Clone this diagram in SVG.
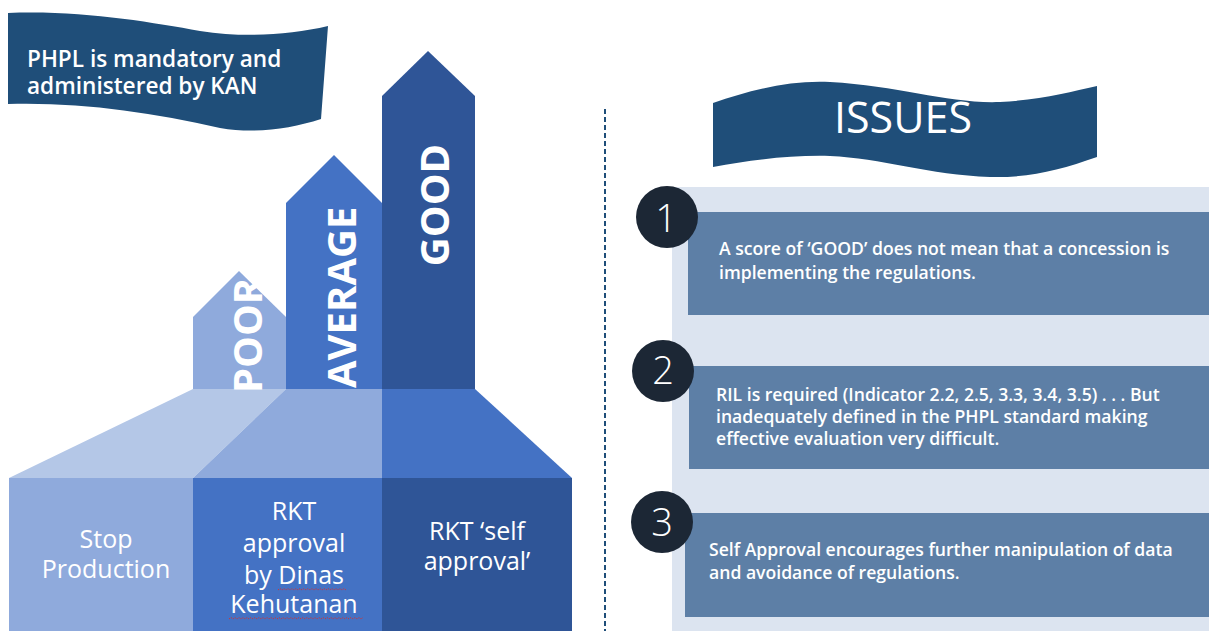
<svg xmlns="http://www.w3.org/2000/svg" width="1209" height="631" viewBox="0 0 1209 631">
  <style>
    .banner { fill: #1f4e79; }
    .wtxt { fill: #ffffff; font-family: "Open Sans", "Noto Sans", "Liberation Sans", sans-serif; }
    .label { font-size: 40px; font-weight: 700; }
    .base { font-size: 25px; font-weight: 400; text-anchor: middle; }
    .issue-txt { font-size: 17.6px; font-weight: 600; }
    .num { font-size: 38px; font-weight: 300; text-anchor: middle; }
    .badge { fill: #1c2735; }
    .issue-box { fill: #5d7fa6; }
    .squiggle { fill: none; stroke: #d9302c; stroke-width: 1; stroke-dasharray: 1.2 1.2; }
  </style>

  <rect width="1209" height="631" fill="#ffffff"/>

  <!-- Title flag, left -->
  <g id="flag-phpl">
    <path class="banner" d="M8,13 C80,10 150,22 200,31 C245,38 290,35 328,26 L321,119 C290,129 255,134 220,128 C150,112 80,102 8,104 Z"/>
    <text class="wtxt" x="27" y="67" font-size="22.6" font-weight="600">PHPL is mandatory and</text>
    <text class="wtxt" x="27" y="94" font-size="22.6" font-weight="600">administered by KAN</text>
  </g>

  <!-- Rating arrows -->
  <g id="arrow-poor">
    <polygon points="193,389 193,317 239,271 286,317 286,389" fill="#8faadc"/>
  </g>
  <g id="arrow-average">
    <polygon points="286,389 286,203 334,155 382,203 382,389" fill="#4472c4"/>
  </g>
  <g id="arrow-good">
    <polygon points="382,389 382,96 428,51 475,96 475,389" fill="#2f5597"/>
  </g>

  <!-- Roof linking arrows to outcomes -->
  <g id="roof">
    <polygon points="193,389 286,389 193,478 9,478" fill="#b4c7e7"/>
    <polygon points="286,389 382,389 382,478 193,478" fill="#8faadc"/>
    <polygon points="382,389 475,389 572,478 382,478" fill="#4472c4"/>
  </g>

  <!-- Vertical arrow labels -->
  <text class="wtxt label" transform="translate(262,393) rotate(-90)" font-size="38">POOR</text>
  <text class="wtxt label" transform="translate(356,388) rotate(-90)">AVERAGE</text>
  <text class="wtxt label" transform="translate(449,205) rotate(-90)" text-anchor="middle">GOOD</text>

  <!-- Outcome boxes -->
  <g id="box-stop">
    <rect x="9" y="478" width="184" height="153" fill="#8faadc"/>
    <text class="wtxt base" x="106" y="548">Stop</text>
    <text class="wtxt base" x="106" y="578">Production</text>
  </g>
  <g id="box-dinas">
    <rect x="193" y="478" width="189" height="153" fill="#4472c4"/>
    <text class="wtxt base" x="294" y="520">RKT</text>
    <text class="wtxt base" x="294" y="552">approval</text>
    <text class="wtxt base" x="294" y="584">by Dinas</text>
    <text class="wtxt base" x="294" y="613">Kehutanan</text>
    <path class="squiggle" d="M278,590 l2,-1.5 l2,1.5 l2,-1.5 l2,1.5 l2,-1.5 l2,1.5 l2,-1.5 l2,1.5 l2,-1.5 l2,1.5 l2,-1.5 l2,1.5 l2,-1.5 l2,1.5 l2,-1.5 l2,1.5 l2,-1.5 l2,1.5 l2,-1.5 l2,1.5 l2,-1.5 l2,1.5 l2,-1.5 l2,1.5 l2,-1.5 l2,1.5 l2,-1.5 l2,1.5 l2,-1.5 l2,1.5 l2,-1.5 l2,1.5 l2,-1.5 l2,1.5"/>
    <path class="squiggle" d="M229,619 l2,-1.5 l2,1.5 l2,-1.5 l2,1.5 l2,-1.5 l2,1.5 l2,-1.5 l2,1.5 l2,-1.5 l2,1.5 l2,-1.5 l2,1.5 l2,-1.5 l2,1.5 l2,-1.5 l2,1.5 l2,-1.5 l2,1.5 l2,-1.5 l2,1.5 l2,-1.5 l2,1.5 l2,-1.5 l2,1.5 l2,-1.5 l2,1.5 l2,-1.5 l2,1.5 l2,-1.5 l2,1.5 l2,-1.5 l2,1.5 l2,-1.5 l2,1.5 l2,-1.5 l2,1.5 l2,-1.5 l2,1.5 l2,-1.5 l2,1.5 l2,-1.5 l2,1.5 l2,-1.5 l2,1.5 l2,-1.5 l2,1.5 l2,-1.5 l2,1.5 l2,-1.5 l2,1.5 l2,-1.5 l2,1.5 l2,-1.5 l2,1.5 l2,-1.5 l2,1.5 l2,-1.5 l2,1.5 l2,-1.5 l2,1.5 l2,-1.5 l2,1.5 l2,-1.5 l2,1.5 l2,-1.5 l2,1.5 l2,-1.5"/>
  </g>
  <g id="box-self">
    <rect x="382" y="478" width="190" height="153" fill="#2f5597"/>
    <text class="wtxt base" x="477" y="540">RKT ‘self</text>
    <text class="wtxt base" x="477" y="570">approval’</text>
  </g>

  <!-- Divider -->
  <line x1="605" y1="109" x2="605" y2="631" stroke="#1f4e79" stroke-width="2" stroke-dasharray="5 3"/>

  <!-- Issues header flag -->
  <g id="flag-issues">
    <path class="banner" d="M713,103 C750,90 790,80 830,82 C900,86 950,104 1000,102 C1040,100 1070,92 1097,86 L1097,157 C1060,170 1030,178 990,177 C930,175 880,158 830,156 C790,155 750,160 713,167 Z"/>
    <text class="wtxt" x="903" y="133" font-size="43" text-anchor="middle">ISSUES</text>
  </g>

  <!-- Issues panel -->
  <rect x="672" y="187" width="537" height="444" fill="#dce4f0"/>

  <g id="issue-1">
    <rect class="issue-box" x="688" y="212" width="521" height="103"/>
    <circle class="badge" cx="667" cy="217" r="31"/>
    <text class="wtxt num" x="666" y="232">1</text>
    <text class="wtxt issue-txt" x="719" y="255">A score of ‘GOOD’ does not mean that a concession is</text>
    <text class="wtxt issue-txt" x="719" y="279">implementing the regulations.</text>
  </g>

  <g id="issue-2">
    <rect class="issue-box" x="689" y="366" width="520" height="103"/>
    <circle class="badge" cx="663" cy="371" r="31"/>
    <text class="wtxt num" x="663" y="384">2</text>
    <text class="wtxt issue-txt" x="716" y="401">RIL is required (Indicator 2.2, 2.5, 3.3, 3.4, 3.5) . . .  But</text>
    <text class="wtxt issue-txt" x="716" y="423">inadequately defined in the PHPL standard making</text>
    <text class="wtxt issue-txt" x="716" y="445">effective evaluation very difficult.</text>
  </g>

  <g id="issue-3">
    <rect class="issue-box" x="685" y="513" width="524" height="104"/>
    <circle class="badge" cx="662" cy="522" r="31"/>
    <text class="wtxt num" x="662" y="536">3</text>
    <text class="wtxt issue-txt" x="709" y="556">Self Approval encourages further manipulation of data</text>
    <text class="wtxt issue-txt" x="709" y="579">and avoidance of regulations.</text>
  </g>
</svg>
